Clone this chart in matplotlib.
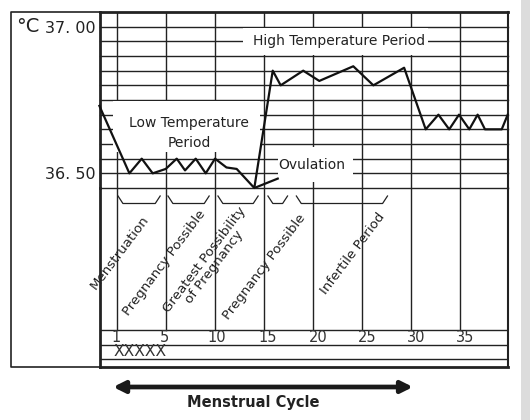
import numpy as np
import matplotlib.pyplot as plt
from matplotlib.patches import Rectangle

# Basal body temperature curve (position on the day grid, °C)
days = [-1.8, 1.26, 2.52, 3.64, 4.97, 6.09, 6.94, 8.03, 9.05, 10.0, 11.17, 12.21,
        14.01, 15.89, 16.7, 19.0, 20.64, 24.11, 26.16, 29.3, 31.5, 32.8, 33.9,
        34.9, 35.95, 36.8, 37.55, 39.26, 39.87]
temps = [36.73, 36.50, 36.55, 36.50, 36.515, 36.55, 36.51, 36.55, 36.50, 36.55,
         36.52, 36.515, 36.45, 36.85, 36.80, 36.85, 36.815, 36.865, 36.80, 36.86,
         36.65, 36.70, 36.65, 36.70, 36.65, 36.70, 36.65, 36.65, 36.70]

# Grid
day_lines = [0, 5, 10, 15, 20, 25, 30, 35]
day_labels = ['1', '5', '10', '15', '20', '25', '30', '35']
day_label_pos = [-0.1, 4.8, 10.2, 15.4, 20.5, 25.5, 30.5, 35.5]
temp_lines = np.round(np.arange(36.45, 37.001, 0.05), 2)

# Periods written on the chart
periods = ['High Temperature Period', 'Low Temperature\nPeriod', 'Ovulation']
period_x0 = [12.9, -0.4, 16.4]
period_x1 = [31.7, 14.6, 24.1]
period_t0 = [36.905, 36.572, 36.47]
period_t1 = [36.995, 36.745, 36.59]
period_tx = [22.65, 7.35, 19.9]
period_tt = [36.952, 36.636, 36.527]

# Phases of the cycle (lower panel)
phases = ['Menstruation', 'Pregnancy Possible', 'Greatest Possibility\nof Pregnancy',
          'Pregnancy Possible', 'Infertile Period']
phase_start = [0.1, 5.2, 10.3, 15.4, 18.3]
phase_end = [4.4, 9.4, 14.4, 17.4, 27.6]
phase_tx = [0.3, 4.8, 9.4, 15.0, 24.1]
phase_ty = [252, 263, 263, 267, 254]

ink = '#222222'
W, H = 530, 420
fig = plt.figure(figsize=(5.3, 4.2), dpi=100)

# background axes in pixel units for the frame and caption
bg = fig.add_axes([0, 0, 1, 1])
bg.set_xlim(0, W)
bg.set_ylim(H, 0)
bg.axis('off')
bg.add_patch(Rectangle((521, 0), 9, H, color='#dcdcdc', lw=0))
bg.plot([99.5, 11, 11, 99.5], [12, 12, 367, 367], color=ink, lw=1.2)
bg.text(16, 26, '°C', fontsize=14, ha='left', va='center', color=ink)
bg.text(253, 403, 'Menstrual Cycle', fontsize=10.5, fontweight='bold',
        ha='center', va='center', color=ink)

# temperature chart
left, right = 99.5, 508
ax = fig.add_axes([left / W, 1 - 188 / H, (right - left) / W, 176 / H])
ax.patch.set_visible(False)
ax.set_xlim(-1.79, 39.9)
ax.set_ylim(36.45, 37.05)
for t in temp_lines:
    ax.axhline(t, color=ink, lw=1.0, zorder=1, clip_on=False)
for d in day_lines:
    ax.axvline(d, color=ink, lw=1.0, zorder=1)
for name, x0, x1, t0, t1, tx, tt in zip(periods, period_x0, period_x1, period_t0,
                                        period_t1, period_tx, period_tt):
    ax.add_patch(Rectangle((x0, t0), x1 - x0, t1 - t0, facecolor='white',
                           edgecolor='none', zorder=2))
    ax.text(tx, tt, name, fontsize=10, ha='center', va='center', color=ink,
            linespacing=1.55, zorder=4)
ax.plot(days, temps, color='#111111', lw=1.6, zorder=3, clip_on=False)
ax.plot([days[12], period_x0[2]], [temps[12], 36.482], color='#111111', lw=1.6, zorder=3)
ax.set_xticks([])
ax.set_yticks([36.5, 37.0])
ax.set_yticklabels(['36. 50', '37. 00'], fontsize=11.5, color=ink)
ax.tick_params(axis='y', length=0, pad=3)
for s in ax.spines.values():
    s.set_color(ink)
ax.spines['left'].set_linewidth(2.0)
ax.spines['top'].set_linewidth(2.0)
ax.spines['right'].set_linewidth(1.5)
ax.spines['bottom'].set_visible(False)

# lower panel with phases and day numbers
ax2 = fig.add_axes([left / W, 1 - 367 / H, (right - left) / W, 179 / H])
ax2.patch.set_visible(False)
ax2.set_xlim(-1.79, 39.9)
ax2.set_ylim(367, 188)
ax2.set_xticks([])
ax2.set_yticks([])
for d in day_lines:
    ax2.plot([d, d], [188, 330], color=ink, lw=1.0)
for y in [330, 344.5, 359]:
    ax2.axhline(y, color=ink, lw=1.0)
for s in ax2.spines.values():
    s.set_color(ink)
ax2.spines['left'].set_linewidth(2.0)
ax2.spines['bottom'].set_linewidth(2.0)
ax2.spines['right'].set_linewidth(1.5)
ax2.spines['top'].set_visible(False)

for x0, x1 in zip(phase_start, phase_end):
    ax2.plot([x0, x0 + 0.5, x1 - 0.5, x1], [196, 203.5, 203.5, 196], color=ink, lw=0.9)
for name, tx, ty in zip(phases, phase_tx, phase_ty):
    ax2.text(tx, ty, name, fontsize=9.6, rotation=53, rotation_mode='anchor',
             ha='center', va='center', color=ink, linespacing=0.95)

for lab, x in zip(day_labels, day_label_pos):
    ax2.text(x, 337.5, lab, fontsize=10.5, ha='center', va='center', color='#333333')
ax2.text(2.4, 352, 'XXXXX', fontsize=11.2, ha='center', va='center', color='#333333')

ax2.annotate('', xy=(30.2, 387), xytext=(-0.4, 387), annotation_clip=False,
             arrowprops=dict(arrowstyle='<|-|>', lw=3.4, color='#1a1a1a',
                             mutation_scale=17, shrinkA=0, shrinkB=0))

fig.savefig('out.png', dpi=100)
